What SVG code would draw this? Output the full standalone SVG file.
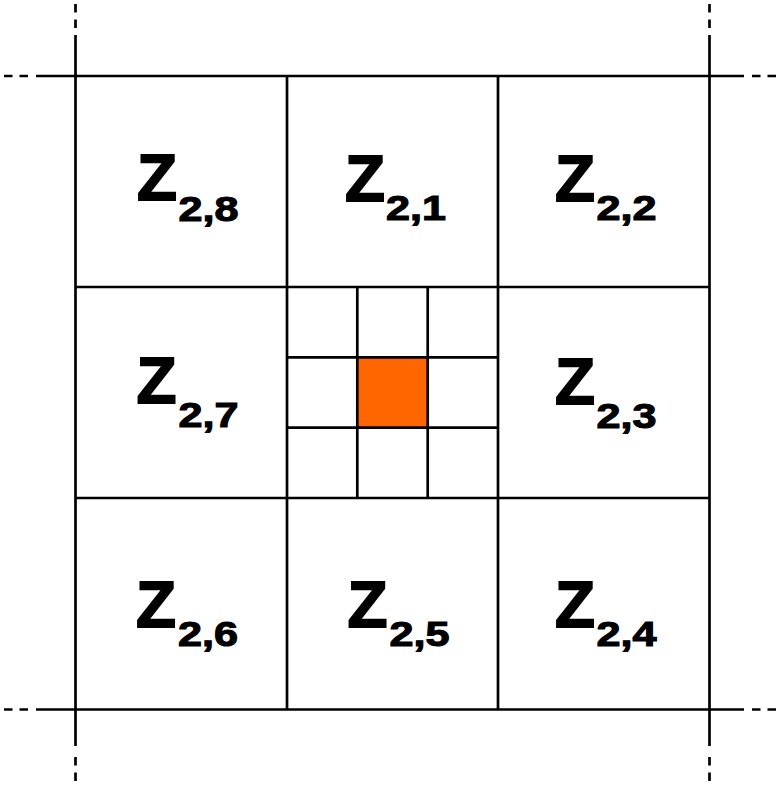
<svg xmlns="http://www.w3.org/2000/svg" width="782" height="785" viewBox="0 0 782 785">
<style>
.ln{stroke:#000;stroke-width:2.7;fill:none}
.dash{stroke:#000;stroke-width:2.7;fill:none;stroke-dasharray:8.5 7}
.z{font-family:"Liberation Sans",Arial,sans-serif;font-weight:bold;font-size:65.5px;fill:#000;stroke:#000;stroke-width:1.8;stroke-linejoin:miter}
.s{font-family:"Liberation Sans",Arial,sans-serif;font-weight:bold;font-size:35px;fill:#000;stroke:#000;stroke-width:1.1}
</style>
<rect width="782" height="785" fill="#fff"/>
<g id="center-cell">
<rect x="357.3" y="357.3" width="70.4" height="70.4" fill="#FF6600"/>
</g>
<g id="connectors">
<line class="ln" x1="75.5" y1="35" x2="75.5" y2="746"/>
<line class="ln" x1="709.5" y1="35" x2="709.5" y2="746"/>
<line class="ln" x1="36" y1="76" x2="744" y2="76"/>
<line class="ln" x1="36" y1="709.5" x2="744" y2="709.5"/>
<line class="dash" x1="75.5" y1="28" x2="75.5" y2="0"/>
<line class="dash" x1="709.5" y1="28" x2="709.5" y2="0"/>
<line class="dash" x1="75.5" y1="757" x2="75.5" y2="785"/>
<line class="dash" x1="709.5" y1="757" x2="709.5" y2="785"/>
<line class="dash" x1="28" y1="76" x2="0" y2="76"/>
<line class="dash" x1="28" y1="709.5" x2="0" y2="709.5"/>
<line class="dash" x1="752" y1="76" x2="782" y2="76"/>
<line class="dash" x1="752" y1="709.5" x2="782" y2="709.5"/>
<line class="ln" x1="287" y1="76" x2="287" y2="709.5"/>
<line class="ln" x1="498" y1="76" x2="498" y2="709.5"/>
<line class="ln" x1="75.5" y1="287" x2="709.5" y2="287"/>
<line class="ln" x1="75.5" y1="498" x2="709.5" y2="498"/>
<line class="ln" x1="357.3" y1="287" x2="357.3" y2="498"/>
<line class="ln" x1="427.7" y1="287" x2="427.7" y2="498"/>
<line class="ln" x1="287" y1="357.3" x2="498" y2="357.3"/>
<line class="ln" x1="287" y1="427.7" x2="498" y2="427.7"/>
</g>
<g id="z28"><text class="z" x="137" y="200.2">Z</text><text class="s" x="178.5" y="221" textLength="60" lengthAdjust="spacingAndGlyphs">2,8</text></g>
<g id="z21"><text class="z" x="345" y="200.7">Z</text><text class="s" x="386" y="220" textLength="60" lengthAdjust="spacingAndGlyphs">2,1</text></g>
<g id="z22"><text class="z" x="555" y="200.7">Z</text><text class="s" x="596.5" y="219.5" textLength="60" lengthAdjust="spacingAndGlyphs">2,2</text></g>
<g id="z27"><text class="z" x="136.5" y="403">Z</text><text class="s" x="178.5" y="426.5" textLength="60" lengthAdjust="spacingAndGlyphs">2,7</text></g>
<g id="z23"><text class="z" x="555" y="404">Z</text><text class="s" x="596.5" y="427.5" textLength="60" lengthAdjust="spacingAndGlyphs">2,3</text></g>
<g id="z26"><text class="z" x="136" y="627.3">Z</text><text class="s" x="178" y="646" textLength="60" lengthAdjust="spacingAndGlyphs">2,6</text></g>
<g id="z25"><text class="z" x="347.5" y="627.3">Z</text><text class="s" x="389.5" y="646" textLength="60" lengthAdjust="spacingAndGlyphs">2,5</text></g>
<g id="z24"><text class="z" x="555" y="627">Z</text><text class="s" x="596.5" y="645.5" textLength="60" lengthAdjust="spacingAndGlyphs">2,4</text></g>
</svg>
